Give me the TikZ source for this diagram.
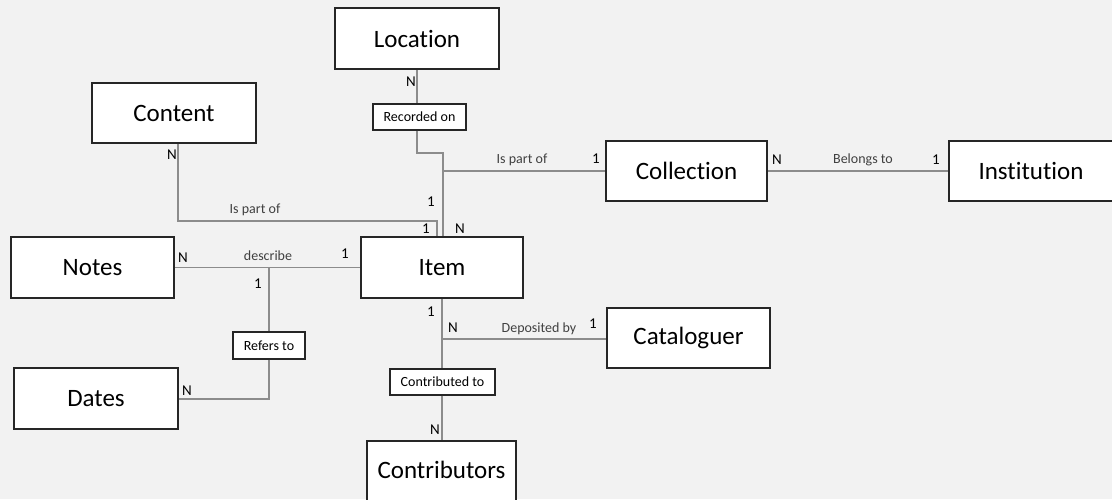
\documentclass[tikz,border=0pt]{standalone}
\usepackage{fontspec}
\setmainfont[Ligatures={NoCommon}]{Carlito}
\definecolor{bg}{HTML}{F2F2F2}
\definecolor{linegray}{HTML}{8C8C8C}
\definecolor{boxline}{HTML}{262626}
\definecolor{lbl}{HTML}{404040}
\begin{document}
\begin{tikzpicture}[x=1pt,y=-1pt,
  entity/.style={draw=boxline,line width=1.6pt,fill=white,font=\fontsize{25}{29}\selectfont,text=black,inner sep=0pt},
  rel/.style={draw=boxline,line width=1.2pt,fill=white,font=\fontsize{14}{16}\selectfont,text=black,inner sep=0pt},
  conn/.style={draw=linegray,line width=1.3pt},
  card/.style={font=\fontsize{15}{17}\selectfont,text=black,anchor=base,inner sep=0pt},
  rlabel/.style={font=\fontsize{14}{16}\selectfont,text=lbl,anchor=base,inner sep=0pt}]
\fill[bg] (0,0) rectangle (1112,499);
\useasboundingbox (0,0) rectangle (1112,499);
\clip (0,0) rectangle (1112,499);
% entities
\node[entity,minimum width=164pt,minimum height=61pt] (loc) at (417,38.5) {Location};
\node[entity,minimum width=164pt,minimum height=60pt] (cont) at (174,113) {Content};
\node[entity,minimum width=161pt,minimum height=60pt] (coll) at (686.5,171) {Collection};
\node[entity,minimum width=172pt,minimum height=60pt] (inst) at (1035,171) {\hspace*{-8pt}Institution};
\node[entity,minimum width=163pt,minimum height=61pt] (notes) at (92.5,267.5) {Notes};
\node[entity,minimum width=162pt,minimum height=61pt] (item) at (442,267.5) {Item};
\node[entity,minimum width=164pt,minimum height=61pt] (dates) at (96,398.5) {Dates};
\node[entity,minimum width=163pt,minimum height=60pt] (catal) at (688.5,338) {Cataloguer};
\node[entity,minimum width=149pt,minimum height=70pt] (contr) at (441.5,476) {};
\node[font=\fontsize{25}{29}\selectfont,text=black,inner sep=0pt] (contrtext) at (441.5,470) {Contributors};
% relationship boxes
\node[rel,minimum width=93pt,minimum height=26pt] (rec) at (419.5,117) {Recorded on};
\node[rel,minimum width=72pt,minimum height=27pt] (ref) at (269,345.5) {Refers to};
\node[rel,minimum width=105pt,minimum height=26pt] (ctb) at (442.5,382) {Contributed to};
% coordinates
\coordinate (a1) at (417,153);
\coordinate (a2) at (443,153);
\coordinate (jc) at (443,171);
\coordinate (c1) at (178,221);
\coordinate (c2) at (437,221);
\coordinate (jn) at (269,267.5);
\coordinate (d1) at (269,399);
\coordinate (jd) at (442,339);
% connectors
\draw[conn] (loc.south -| 417,0) -- (rec.north -| 417,0);
\draw[conn] (rec.south -| 417,0) -- (a1) -- (a2) -- (item.north -| a2);
\draw[conn] (jc) -- (coll.west);
\draw[conn] (coll.east) -- (inst.west);
\draw[conn] (cont.south -| 178,0) -- (c1) -- (c2) -- (item.north -| c2);
\draw[conn] (notes.east) -- (item.west);
\draw[conn] (jn) -- (ref.north);
\draw[conn] (ref.south) -- (d1) -- (dates.east |- d1);
\draw[conn] (item.south -| 442,0) -- (ctb.north -| 442,0);
\draw[conn] (jd) -- (catal.west |- jd);
\draw[conn] (ctb.south -| 442,0) -- (contr.north -| 442,0);
% cardinalities
\node[card] (n1) at (411,86) {N};
\node[card] (n2) at (596,163) {1};
\node[card] (n3) at (431,206) {1};
\node[card] (n4) at (426,233) {1};
\node[card] (n5) at (460,233) {N};
\node[card] (n6) at (172,159) {N};
\node[card] (n7) at (183,262) {N};
\node[card] (n8) at (345,258) {1};
\node[card] (n9) at (258,288) {1};
\node[card] (n10) at (187,395) {N};
\node[card] (n11) at (431,316) {1};
\node[card] (n12) at (453,332) {N};
\node[card] (n13) at (593,328) {1};
\node[card] (n14) at (435,434) {N};
\node[card] (n15) at (777,164) {N};
\node[card] (n16) at (936,164) {1};
% relationship labels
\node[rlabel] (l1) at (522,163) {Is part of};
\node[rlabel] (l2) at (255,213) {Is part of};
\node[rlabel] (l3) at (268,260) {describe};
\node[rlabel] (l4) at (539,332) {Deposited by};
\node[rlabel] (l5) at (863,163) {Belongs to};
\end{tikzpicture}
\end{document}
